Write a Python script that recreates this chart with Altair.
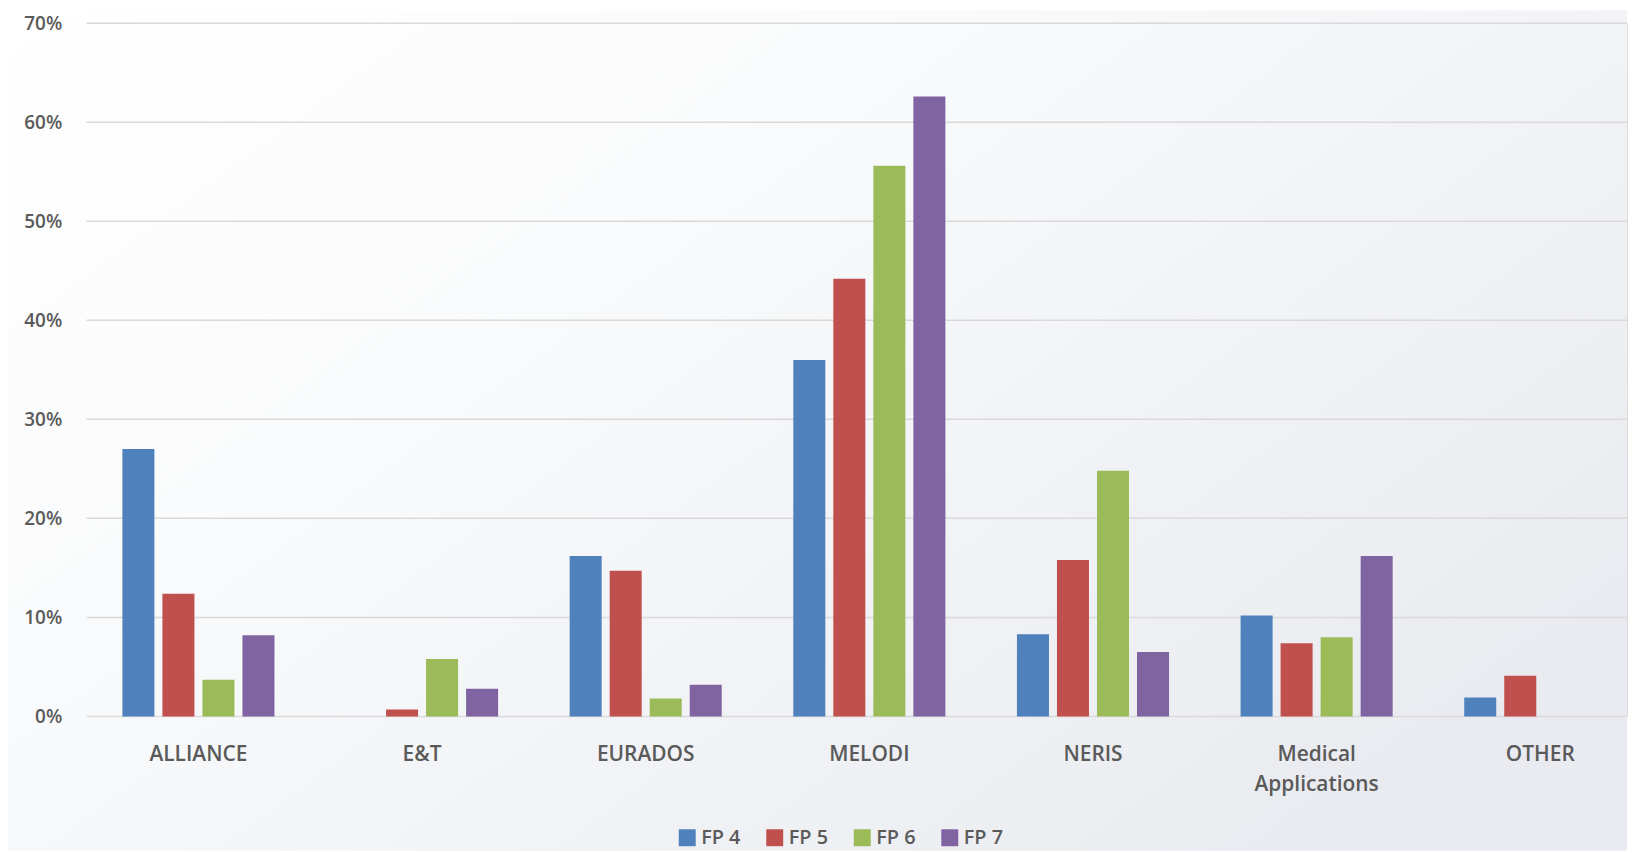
import altair as alt
import pandas as pd

categories = ["ALLIANCE", "E&T", "EURADOS", "MELODI", "NERIS", "Medical Applications", "OTHER"]
series = ["FP 4", "FP 5", "FP 6", "FP 7"]
fp4 = [0.270, 0.000, 0.162, 0.360, 0.083, 0.102, 0.019]
fp5 = [0.124, 0.007, 0.147, 0.442, 0.158, 0.074, 0.041]
fp6 = [0.037, 0.058, 0.018, 0.556, 0.248, 0.080, 0.000]
fp7 = [0.082, 0.028, 0.032, 0.626, 0.065, 0.162, 0.000]
y_ticks = [0, 0.1, 0.2, 0.3, 0.4, 0.5, 0.6, 0.7]
colors = ["#4f81bd", "#c0504d", "#9bbb59", "#8064a2"]

rows = []
for s, vals in zip(series, [fp4, fp5, fp6, fp7]):
    for c, v in zip(categories, vals):
        rows.append({"category": c, "series": s, "value": v})
df = pd.DataFrame(rows)
grid_df = pd.DataFrame({"tick": y_ticks})

W, H = 1549, 697
FONT = "Open Sans"
TXT = "#5a5a5a"

yscale = alt.Scale(domain=[0, 0.7])

bg = alt.Chart(alt.Data(values=[{}])).mark_rect(
    color=alt.LinearGradient(
        gradient="linear",
        stops=[alt.GradientStop(offset=0, color="#ffffff"),
               alt.GradientStop(offset=0.35, color="#fafbfc"),
               alt.GradientStop(offset=1, color="#e9ebf0")],
        x1=0, y1=0, x2=1, y2=0.7,
    )
).encode(
    x=alt.value(-79), x2=alt.value(W), y=alt.value(-13), y2=alt.value(H + 135)
)

grid = alt.Chart(grid_df).mark_rule(color="#d9d9d9", strokeWidth=1.5).encode(
    y=alt.Y("tick:Q", scale=yscale),
    x=alt.value(0), x2=alt.value(W),
)

bars = alt.Chart(df).mark_bar().encode(
    x=alt.X("category:N", sort=categories,
            scale=alt.Scale(paddingInner=0.32, paddingOuter=0.104, align=0.77),
            axis=alt.Axis(title=None, labelAngle=0, ticks=False, domain=False, zindex=1,
                          labelPadding=27, labelFontSize=21, labelFont=FONT,
                          labelFontWeight=600,
                          labelColor=TXT, labelLineHeight=31, labelLimit=300,
                          labelExpr="datum.label == 'Medical Applications' ? ['Medical', 'Applications'] : datum.label")),
    xOffset=alt.XOffset("series:N", sort=series,
                        scale=alt.Scale(paddingInner=0.2, paddingOuter=0)),
    y=alt.Y("value:Q", scale=yscale,
            axis=alt.Axis(title=None, format=".0%", values=y_ticks, zindex=1,
                          ticks=False, domain=False, labelPadding=25, labelFontSize=19,
                          labelFontWeight=600,
                          labelFont=FONT, labelColor=TXT, minExtent=72, maxExtent=72,
                          grid=False)),
    color=alt.Color("series:N", sort=series,
                    scale=alt.Scale(domain=series, range=colors),
                    legend=alt.Legend(title=None, orient="none", direction="horizontal",
                                      legendX=594, legendY=809,
                                      symbolType="square", symbolSize=290,
                                      symbolStrokeWidth=0, labelFontSize=20,
                                      labelFontWeight=600,
                                      labelFont=FONT, labelColor=TXT,
                                      labelOffset=4, columnPadding=24)),
)

chart = alt.layer(bg, grid, bars).properties(
    width=W, height=H, padding=0
).configure_view(stroke=None).configure(background="#ffffff")

chart.save("out.html", embed_options={"renderer": "svg", "actions": False})
